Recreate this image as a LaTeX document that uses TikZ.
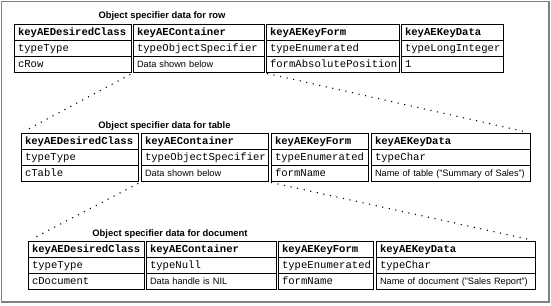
\documentclass[tikz,border=0pt]{standalone}
\usepackage{fontspec}
\setmainfont{Liberation Sans}
\newfontfamily\monof{Liberation Mono}
\begin{document}
\begin{tikzpicture}[x=1pt,y=-1pt,
  cellbox/.style={draw=black,line width=1pt,rectangle,minimum height=16pt,inner xsep=3.5pt,inner ysep=0pt,align=left,text height=7.5pt,text depth=2pt},
  hd/.style={font=\monof\bfseries\fontsize{10.6}{12}\selectfont},
  mo/.style={font=\monof\fontsize{10.6}{12}\selectfont},
  sa/.style={font=\fontsize{9.2}{10}\selectfont},
  ttl/.style={font=\bfseries\fontsize{9.4}{11}\selectfont,inner sep=0pt},
  dots/.style={line width=1.1pt,dash pattern=on 1.1pt off 5.6pt,line cap=butt}]
\newcommand\tcell[6]{%
  \pgfmathsetmacro\tcw{#4-7}%
  \node[cellbox,#5,minimum width=#4pt,text width=\tcw pt,anchor=north west] (#1) at (#2,#3) {#6};}
\useasboundingbox (0,0) rectangle (551,305);
\fill[white] (0,0) rectangle (551,305);
\draw[gray,line width=1.2pt] (1.2,1.2) rectangle (548.6,301.6);
\draw[gray,line width=2pt] (548.6,1) -- (548.6,302.4) -- (1,302.4);
% ---- table 1
\node[ttl] (t1) at (162,16) {Object specifier data for row};
\tcell{a11}{14}{24}{117}{hd}{keyAEDesiredClass}
\tcell{a12}{14}{40}{117}{mo}{typeType}
\tcell{a13}{14}{56}{117}{mo}{cRow}
\tcell{a21}{133}{24}{131}{hd}{keyAEContainer}
\tcell{a22}{133}{40}{131}{mo}{typeObjectSpecifier}
\tcell{a23}{133}{56}{131}{sa}{Data shown below}
\tcell{a31}{266}{24}{133}{hd}{keyAEKeyForm}
\tcell{a32}{266}{40}{133}{mo}{typeEnumerated}
\tcell{a33}{266}{56}{133}{mo}{formAbsolutePosition}
\tcell{a41}{401}{24}{102}{hd}{keyAEKeyData}
\tcell{a42}{401}{40}{102}{mo}{typeLongInteger}
\tcell{a43}{401}{56}{102}{mo}{1}
% ---- table 2
\node[ttl] (t2) at (164.5,126) {Object specifier data for table};
\tcell{b11}{21}{133}{117}{hd}{keyAEDesiredClass}
\tcell{b12}{21}{149}{117}{mo}{typeType}
\tcell{b13}{21}{165}{117}{mo}{cTable}
\tcell{b21}{141}{133}{127}{hd}{keyAEContainer}
\tcell{b22}{141}{149}{127}{mo}{typeObjectSpecifier}
\tcell{b23}{141}{165}{127}{sa}{Data shown below}
\tcell{b31}{271}{133}{97}{hd}{keyAEKeyForm}
\tcell{b32}{271}{149}{97}{mo}{typeEnumerated}
\tcell{b33}{271}{165}{97}{mo}{formName}
\tcell{b41}{371}{133}{159}{hd}{keyAEKeyData}
\tcell{b42}{371}{149}{159}{mo}{typeChar}
\tcell{b43}{371}{165}{159}{sa}{Name of table ("Summary of Sales")}
% ---- table 3
\node[ttl] (t3) at (170,234) {Object specifier data for document};
\tcell{c11}{28}{241}{116}{hd}{keyAEDesiredClass}
\tcell{c12}{28}{257}{116}{mo}{typeType}
\tcell{c13}{28}{273}{116}{mo}{cDocument}
\tcell{c21}{146}{241}{130}{hd}{keyAEContainer}
\tcell{c22}{146}{257}{130}{mo}{typeNull}
\tcell{c23}{146}{273}{130}{sa}{Data handle is NIL}
\tcell{c31}{278}{241}{95}{hd}{keyAEKeyForm}
\tcell{c32}{278}{257}{95}{mo}{typeEnumerated}
\tcell{c33}{278}{273}{95}{mo}{formName}
\tcell{c41}{376}{241}{159}{hd}{keyAEKeyData}
\tcell{c42}{376}{257}{159}{mo}{typeChar}
\tcell{c43}{376}{273}{159}{sa}{Name of document ("Sales Report")}
% ---- dotted connectors
\draw[dots,shorten <=3pt,shorten >=4pt] (a23.south west) -- (b11.north west);
\draw[dots,shorten <=2pt,shorten >=6pt] (a23.south east) -- (b41.north east);
\draw[dots,shorten <=3pt,shorten >=4pt] (b23.south west) -- (c11.north west);
\draw[dots,shorten <=2pt,shorten >=4pt] (b23.south east) -- (c41.north east);
\end{tikzpicture}
\end{document}
